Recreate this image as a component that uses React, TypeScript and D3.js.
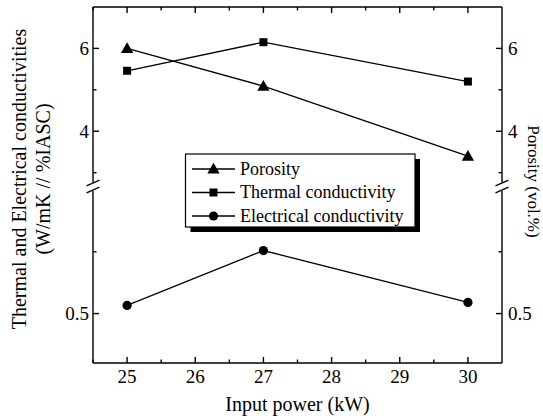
import React from "react";
import * as d3 from "d3";

const powers = [25, 27, 30];
const porosity = [6.0, 5.09, 3.4];
const thermal = [5.46, 6.15, 5.2];
const electrical = [0.533, 0.755, 0.545];

const xTicks = [25, 26, 27, 28, 29, 30];
const xMinor = [24.5, 25.5, 26.5, 27.5, 28.5, 29.5];
const upperMajor = [4, 6];
const upperMinor = [3, 5];
const lowerMajor = [0.5];
const lowerMinor = [0.75];
const legendLabels = ["Porosity", "Thermal conductivity", "Electrical conductivity"];

const W = 543, H = 420;
const L = 93, R = 502, T = 7, B = 363;
const BREAK_TOP = 183, BREAK_BOT = 190;
const FONT = "Liberation Serif, Tinos, DejaVu Serif, serif";

const x = d3.scaleLinear().domain([24.5, 30.5]).range([L, R]);
const yUp = d3.scaleLinear().domain([2.75, 7]).range([BREAK_TOP, T]);
const yLo = d3.scaleLinear().domain([0.3, 1.0]).range([B, BREAK_BOT]);
const yPos = (v: number) => (v >= 2 ? yUp(v) : yLo(v));

const line = d3.line<[number, number]>().x((d) => x(d[0])).y((d) => yPos(d[1]));

function Marker({ kind, cx, cy }: { kind: number; cx: number; cy: number }) {
  if (kind === 0) {
    const s = d3.symbol(d3.symbolTriangle, 66)();
    return <path d={s || ""} transform={`translate(${cx},${cy + 1})`} fill="#000" />;
  }
  if (kind === 1) {
    return <rect x={cx - 4} y={cy - 4} width={8} height={8} fill="#000" />;
  }
  return <circle cx={cx} cy={cy} r={4.6} fill="#000" />;
}

export default function App() {
  const series = [porosity, thermal, electrical];
  const yTicksAll = [...upperMajor, ...lowerMajor];
  const yMinorAll = [...upperMinor, ...lowerMinor];
  const sw = 1.4;
  const legX = 185.5, legY = 154, legW = 229.5, legH = 73;
  const ts = { fontFamily: FONT } as React.CSSProperties;
  return (
    <svg width={W} height={H} style={{ position: "absolute", left: 0, top: 0, background: "#fff", fontFamily: FONT }}>
      <rect width={W} height={H} fill="#fff" />
      {/* frame */}
      <line x1={L} x2={R} y1={T} y2={T} stroke="#000" strokeWidth={sw} />
      <line x1={L} x2={R} y1={B} y2={B} stroke="#000" strokeWidth={sw} />
      {[L, R].map((xx) => (
        <g key={xx}>
          <line x1={xx} x2={xx} y1={T} y2={BREAK_TOP - 1} stroke="#000" strokeWidth={sw} />
          <line x1={xx} x2={xx} y1={BREAK_BOT + 1} y2={B} stroke="#000" strokeWidth={sw} />
          <line x1={xx - 6.5} x2={xx + 6.5} y1={BREAK_TOP + 2.8} y2={BREAK_TOP - 2.8} stroke="#000" strokeWidth={1.3} />
          <line x1={xx - 6.5} x2={xx + 6.5} y1={BREAK_BOT + 2.8} y2={BREAK_BOT - 2.8} stroke="#000" strokeWidth={1.3} />
        </g>
      ))}
      {/* x ticks */}
      {xTicks.map((t) => (
        <g key={"x" + t}>
          <line x1={x(t)} x2={x(t)} y1={B} y2={B - 6} stroke="#000" strokeWidth={sw} />
          <line x1={x(t)} x2={x(t)} y1={T} y2={T + 6} stroke="#000" strokeWidth={sw} />
          <text x={x(t)} y={383} textAnchor="middle" style={ts} fontSize={19}>
            {t}
          </text>
        </g>
      ))}
      {xMinor.map((t) => (
        <g key={"xm" + t}>
          <line x1={x(t)} x2={x(t)} y1={B} y2={B - 3.5} stroke="#000" strokeWidth={sw} />
          <line x1={x(t)} x2={x(t)} y1={T} y2={T + 3.5} stroke="#000" strokeWidth={sw} />
        </g>
      ))}
      {/* y ticks */}
      {yTicksAll.map((t) => (
        <g key={"y" + t}>
          <line x1={L} x2={L + 6} y1={yPos(t)} y2={yPos(t)} stroke="#000" strokeWidth={sw} />
          <line x1={R} x2={R - 6} y1={yPos(t)} y2={yPos(t)} stroke="#000" strokeWidth={sw} />
          <text x={89} y={yPos(t) + 6.5} textAnchor="end" style={ts} fontSize={19}>
            {t}
          </text>
          <text x={508} y={yPos(t) + 6.5} textAnchor="start" style={ts} fontSize={19}>
            {t}
          </text>
        </g>
      ))}
      {yMinorAll.map((t) => (
        <g key={"ym" + t}>
          <line x1={L} x2={L + 3.5} y1={yPos(t)} y2={yPos(t)} stroke="#000" strokeWidth={sw} />
          <line x1={R} x2={R - 3.5} y1={yPos(t)} y2={yPos(t)} stroke="#000" strokeWidth={sw} />
        </g>
      ))}
      {/* series */}
      {series.map((vals, k) => (
        <g key={"s" + k}>
          <path
            d={line(powers.map((p, i) => [p, vals[i]] as [number, number])) || ""}
            fill="none"
            stroke="#000"
            strokeWidth={1.3}
          />
          {powers.map((p, i) => (
            <Marker key={i} kind={k} cx={x(p)} cy={yPos(vals[i])} />
          ))}
        </g>
      ))}
      {/* legend */}
      <rect x={legX + 5} y={legY + 5} width={legW} height={legH} fill="#000" />
      <rect x={legX} y={legY} width={legW} height={legH} fill="#fff" stroke="#000" strokeWidth={1.2} />
      {legendLabels.map((lab, i) => {
        const cy = 169 + i * 23.5;
        return (
          <g key={lab}>
            <line x1={192} x2={235} y1={cy} y2={cy} stroke="#000" strokeWidth={1.3} />
            <Marker kind={i} cx={213.5} cy={cy} />
            <text x={240} y={cy + 5.5} style={ts} fontSize={18}>
              {lab}
            </text>
          </g>
        );
      })}
      {/* axis titles */}
      <text x={(L + R) / 2} y={411} textAnchor="middle" style={ts} fontSize={20}>
        Input power (kW)
      </text>
      <g transform={`translate(25.5, ${(T + B) / 2 - 6}) rotate(-90)`}>
        <text x={0} y={0} textAnchor="middle" style={ts} fontSize={20}>
          Thermal and Electrical conductivities
        </text>
        <text x={0} y={24} textAnchor="middle" style={ts} fontSize={20}>
          (W/mK // %IASC)
        </text>
      </g>
      <g transform={`translate(528, 181.5) rotate(90)`}>
        <text x={0} y={0} textAnchor="middle" style={ts} fontSize={17}>
          Porosity (vol.%)
        </text>
      </g>
    </svg>
  );
}
